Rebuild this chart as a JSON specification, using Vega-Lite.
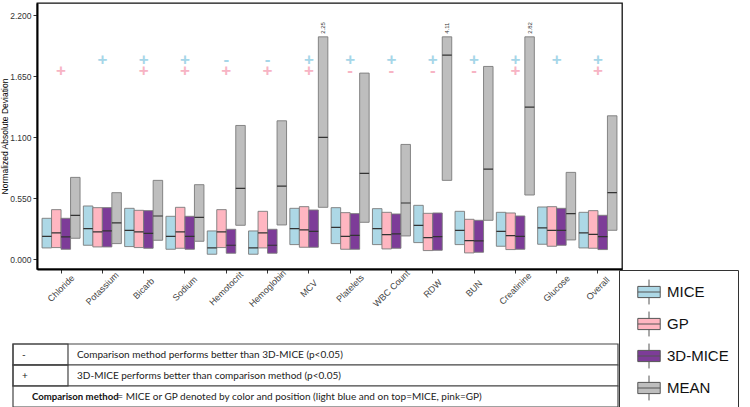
{
  "$schema": "https://vega.github.io/schema/vega-lite/v6.json",
  "background": "white",
  "padding": {"left": 0, "top": 2, "right": 0, "bottom": 0},
  "datasets": {
    "boxes": [
      {"var": "Chloride", "method": "MICE", "q1": 0.102, "med": 0.207, "q3": 0.369},
      {"var": "Chloride", "method": "GP", "q1": 0.105, "med": 0.237, "q3": 0.447},
      {"var": "Chloride", "method": "3D-MICE", "q1": 0.090, "med": 0.201, "q3": 0.369},
      {"var": "Chloride", "method": "MEAN", "q1": 0.189, "med": 0.396, "q3": 0.738},
      {"var": "Potassium", "method": "MICE", "q1": 0.126, "med": 0.276, "q3": 0.480},
      {"var": "Potassium", "method": "GP", "q1": 0.111, "med": 0.246, "q3": 0.465},
      {"var": "Potassium", "method": "3D-MICE", "q1": 0.111, "med": 0.255, "q3": 0.465},
      {"var": "Potassium", "method": "MEAN", "q1": 0.141, "med": 0.327, "q3": 0.600},
      {"var": "Bicarb", "method": "MICE", "q1": 0.114, "med": 0.261, "q3": 0.459},
      {"var": "Bicarb", "method": "GP", "q1": 0.105, "med": 0.246, "q3": 0.441},
      {"var": "Bicarb", "method": "3D-MICE", "q1": 0.099, "med": 0.234, "q3": 0.438},
      {"var": "Bicarb", "method": "MEAN", "q1": 0.171, "med": 0.390, "q3": 0.711},
      {"var": "Sodium", "method": "MICE", "q1": 0.090, "med": 0.207, "q3": 0.387},
      {"var": "Sodium", "method": "GP", "q1": 0.099, "med": 0.246, "q3": 0.468},
      {"var": "Sodium", "method": "3D-MICE", "q1": 0.090, "med": 0.207, "q3": 0.387},
      {"var": "Sodium", "method": "MEAN", "q1": 0.162, "med": 0.378, "q3": 0.672},
      {"var": "Hemotocrit", "method": "MICE", "q1": 0.045, "med": 0.102, "q3": 0.255},
      {"var": "Hemotocrit", "method": "GP", "q1": 0.105, "med": 0.246, "q3": 0.447},
      {"var": "Hemotocrit", "method": "3D-MICE", "q1": 0.054, "med": 0.126, "q3": 0.270},
      {"var": "Hemotocrit", "method": "MEAN", "q1": 0.306, "med": 0.639, "q3": 1.206},
      {"var": "Hemoglobin", "method": "MICE", "q1": 0.045, "med": 0.102, "q3": 0.255},
      {"var": "Hemoglobin", "method": "GP", "q1": 0.102, "med": 0.237, "q3": 0.432},
      {"var": "Hemoglobin", "method": "3D-MICE", "q1": 0.054, "med": 0.126, "q3": 0.270},
      {"var": "Hemoglobin", "method": "MEAN", "q1": 0.309, "med": 0.660, "q3": 1.248},
      {"var": "MCV", "method": "MICE", "q1": 0.132, "med": 0.276, "q3": 0.459},
      {"var": "MCV", "method": "GP", "q1": 0.108, "med": 0.264, "q3": 0.474},
      {"var": "MCV", "method": "3D-MICE", "q1": 0.108, "med": 0.252, "q3": 0.444},
      {"var": "MCV", "method": "MEAN", "q1": 0.468, "med": 1.098, "q3": 2.005, "label": "2.25"},
      {"var": "Platelets", "method": "MICE", "q1": 0.141, "med": 0.288, "q3": 0.465},
      {"var": "Platelets", "method": "GP", "q1": 0.090, "med": 0.207, "q3": 0.420},
      {"var": "Platelets", "method": "3D-MICE", "q1": 0.090, "med": 0.216, "q3": 0.411},
      {"var": "Platelets", "method": "MEAN", "q1": 0.333, "med": 0.774, "q3": 1.678},
      {"var": "WBC Count", "method": "MICE", "q1": 0.132, "med": 0.276, "q3": 0.456},
      {"var": "WBC Count", "method": "GP", "q1": 0.093, "med": 0.222, "q3": 0.423},
      {"var": "WBC Count", "method": "3D-MICE", "q1": 0.099, "med": 0.228, "q3": 0.408},
      {"var": "WBC Count", "method": "MEAN", "q1": 0.210, "med": 0.507, "q3": 1.035},
      {"var": "RDW", "method": "MICE", "q1": 0.150, "med": 0.306, "q3": 0.486},
      {"var": "RDW", "method": "GP", "q1": 0.078, "med": 0.195, "q3": 0.414},
      {"var": "RDW", "method": "3D-MICE", "q1": 0.081, "med": 0.204, "q3": 0.417},
      {"var": "RDW", "method": "MEAN", "q1": 0.711, "med": 1.840, "q3": 2.005, "label": "4.11"},
      {"var": "BUN", "method": "MICE", "q1": 0.132, "med": 0.261, "q3": 0.432},
      {"var": "BUN", "method": "GP", "q1": 0.057, "med": 0.168, "q3": 0.360},
      {"var": "BUN", "method": "3D-MICE", "q1": 0.063, "med": 0.165, "q3": 0.351},
      {"var": "BUN", "method": "MEAN", "q1": 0.351, "med": 0.813, "q3": 1.738},
      {"var": "Creatinine", "method": "MICE", "q1": 0.117, "med": 0.252, "q3": 0.423},
      {"var": "Creatinine", "method": "GP", "q1": 0.087, "med": 0.213, "q3": 0.417},
      {"var": "Creatinine", "method": "3D-MICE", "q1": 0.090, "med": 0.207, "q3": 0.390},
      {"var": "Creatinine", "method": "MEAN", "q1": 0.579, "med": 1.372, "q3": 2.005, "label": "2.82"},
      {"var": "Glucose", "method": "MICE", "q1": 0.135, "med": 0.282, "q3": 0.471},
      {"var": "Glucose", "method": "GP", "q1": 0.117, "med": 0.261, "q3": 0.474},
      {"var": "Glucose", "method": "3D-MICE", "q1": 0.126, "med": 0.261, "q3": 0.459},
      {"var": "Glucose", "method": "MEAN", "q1": 0.174, "med": 0.411, "q3": 0.783},
      {"var": "Overall", "method": "MICE", "q1": 0.102, "med": 0.237, "q3": 0.423},
      {"var": "Overall", "method": "GP", "q1": 0.099, "med": 0.225, "q3": 0.438},
      {"var": "Overall", "method": "3D-MICE", "q1": 0.087, "med": 0.204, "q3": 0.396},
      {"var": "Overall", "method": "MEAN", "q1": 0.261, "med": 0.600, "q3": 1.293}
    ],
    "signs": [
      {"var": "Chloride", "cmp": "GP", "sign": "+"},
      {"var": "Potassium", "cmp": "MICE", "sign": "+"},
      {"var": "Bicarb", "cmp": "MICE", "sign": "+"},
      {"var": "Bicarb", "cmp": "GP", "sign": "+"},
      {"var": "Sodium", "cmp": "MICE", "sign": "+"},
      {"var": "Sodium", "cmp": "GP", "sign": "+"},
      {"var": "Hemotocrit", "cmp": "MICE", "sign": "-"},
      {"var": "Hemotocrit", "cmp": "GP", "sign": "+"},
      {"var": "Hemoglobin", "cmp": "MICE", "sign": "-"},
      {"var": "Hemoglobin", "cmp": "GP", "sign": "+"},
      {"var": "MCV", "cmp": "MICE", "sign": "+"},
      {"var": "MCV", "cmp": "GP", "sign": "+"},
      {"var": "Platelets", "cmp": "MICE", "sign": "+"},
      {"var": "Platelets", "cmp": "GP", "sign": "-"},
      {"var": "WBC Count", "cmp": "MICE", "sign": "+"},
      {"var": "WBC Count", "cmp": "GP", "sign": "-"},
      {"var": "RDW", "cmp": "MICE", "sign": "+"},
      {"var": "RDW", "cmp": "GP", "sign": "-"},
      {"var": "BUN", "cmp": "MICE", "sign": "+"},
      {"var": "BUN", "cmp": "GP", "sign": "-"},
      {"var": "Creatinine", "cmp": "MICE", "sign": "+"},
      {"var": "Creatinine", "cmp": "GP", "sign": "+"},
      {"var": "Glucose", "cmp": "MICE", "sign": "+"},
      {"var": "Overall", "cmp": "MICE", "sign": "+"},
      {"var": "Overall", "cmp": "GP", "sign": "+"}
    ],
    "table": [
      {"row": 1, "sym": "-", "bold": "", "desc": "Comparison method performs better than 3D-MICE (p<0.05)"},
      {"row": 2, "sym": "+", "bold": "", "desc": "3D-MICE performs better than comparison method (p<0.05)"},
      {"row": 3, "sym": "", "bold": "Comparison method", "desc": "= MICE or GP denoted by color and position (light blue and on top=MICE, pink=GP)"}
    ]
  },
  "spacing": 75,
  "bounds": "flush",
  "resolve": {"legend": {"color": "independent"}},
  "vconcat": [
    {
      "width": 585,
      "height": 266,
      "data": {"name": "boxes"},
      "encoding": {
        "x": {
          "field": "var",
          "type": "nominal",
          "scale": {
            "domain": ["Chloride", "Potassium", "Bicarb", "Sodium", "Hemotocrit", "Hemoglobin", "MCV", "Platelets", "WBC Count", "RDW", "BUN", "Creatinine", "Glucose", "Overall"],
            "paddingInner": 0.08,
            "paddingOuter": 0.1225
          },
          "axis": {
            "title": null,
            "labelAngle": -45,
            "labelAlign": "center",
            "labelBaseline": "middle",
            "labelPadding": 15,
            "labelFontSize": 9,
            "labelColor": "#444",
            "tickSize": 4,
            "tickColor": "#333",
            "domainColor": "#000",
            "domainWidth": 2
          }
        }
      },
      "layer": [
        {
          "mark": {"type": "bar", "stroke": "#7a7a7a", "strokeWidth": 0.9},
          "encoding": {
            "xOffset": {"field": "method", "scale": {"domain": ["MICE", "GP", "3D-MICE", "MEAN"], "paddingInner": 0, "paddingOuter": 0}},
            "y": {
              "field": "q1",
              "type": "quantitative",
              "scale": {"domain": [-0.088, 2.31], "nice": false, "zero": false},
              "axis": {
                "title": "Normalized Absolute Deviation",
                "values": [0, 0.275, 0.55, 0.825, 1.1, 1.375, 1.65, 1.925, 2.2],
                "format": ".3f",
                "grid": false,
                "titleFontSize": 8.5,
                "titleFontWeight": "normal",
                "titleColor": "#000",
                "titlePadding": 0,
                "labelFontSize": 8.5,
                "labelColor": "#333",
                "labelPadding": 2,
                "tickSize": 4,
                "tickColor": "#333",
                "domainColor": "#000",
                "domainWidth": 2
              }
            },
            "y2": {"field": "q3"},
            "color": {
              "field": "method",
              "type": "nominal",
              "scale": {"domain": ["MICE", "GP", "3D-MICE", "MEAN"], "range": ["#add8e6", "#ffb6c1", "#7d3c98", "#bebebe"]},
              "legend": {
                "title": null,
                "orient": "none",
                "legendX": 582,
                "legendY": 267,
                "padding": 9,
                "rowPadding": 2,
                "symbolType": "M0,-1V-0.45M-0.9,-0.45H0.9V0.45H-0.9ZM-0.9,0H0.9M0,0.45V1",
                "symbolSize": 620,
                "symbolOffset": 8,
                "symbolStrokeColor": "#555",
                "symbolStrokeWidth": 1,
                "symbolOpacity": 1,
                "labelFont": "Liberation Sans",
                "labelFontSize": 15,
                "labelColor": "#111",
                "labelOffset": 5,
                "labelExpr": "datum.label + '        '",
                "strokeColor": "#333",
                "fillColor": "white"
              }
            }
          }
        },
        {
          "mark": {"type": "bar", "fill": null, "stroke": "#333", "strokeWidth": 1.2},
          "encoding": {
            "xOffset": {"field": "method", "scale": {"domain": ["MICE", "GP", "3D-MICE", "MEAN"], "paddingInner": 0, "paddingOuter": 0}},
            "y": {"field": "med", "type": "quantitative"},
            "y2": {"field": "med"}
          }
        },
        {
          "transform": [{"filter": "datum.label != null"}],
          "mark": {"type": "text", "angle": 270, "align": "left", "baseline": "middle", "dx": 3, "fontSize": 6, "color": "#333"},
          "encoding": {
            "xOffset": {"field": "method", "scale": {"domain": ["MICE", "GP", "3D-MICE", "MEAN"], "paddingInner": 0, "paddingOuter": 0}},
            "y": {"field": "q3", "type": "quantitative"},
            "text": {"field": "label"}
          }
        },
        {
          "data": {"name": "signs"},
          "transform": [{"filter": "datum.cmp == 'MICE'"}],
          "mark": {"type": "text", "fontSize": 17, "fontWeight": "bold", "baseline": "middle", "color": "#a6d6e8"},
          "encoding": {
            "y": {"datum": 1.792},
            "text": {"field": "sign"}
          }
        },
        {
          "data": {"name": "signs"},
          "transform": [{"filter": "datum.cmp == 'GP'"}],
          "mark": {"type": "text", "fontSize": 17, "fontWeight": "bold", "baseline": "middle", "color": "#f7b4c4"},
          "encoding": {
            "y": {"datum": 1.693},
            "text": {"field": "sign"}
          }
        }
      ]
    },
    {
      "width": 581,
      "height": 63,
      "data": {"name": "table"},
      "view": {"stroke": null},
      "encoding": {
        "y": {"field": "row", "type": "ordinal", "axis": null, "scale": {"paddingInner": 0, "paddingOuter": 0}}
      },
      "layer": [
        {
          "mark": {"type": "rect", "fill": "white", "stroke": "#444", "strokeWidth": 1.2},
          "encoding": {
            "x": {"datum": 0, "type": "quantitative", "scale": {"domain": [0, 1], "range": [-24, 581], "nice": false, "zero": false}, "axis": null},
            "x2": {"datum": 1}
          }
        },
        {
          "transform": [{"filter": "datum.row < 3"}],
          "mark": {"type": "rect", "filled": false, "stroke": "#444", "strokeWidth": 1.2},
          "encoding": {
            "x": {"datum": 0},
            "x2": {"datum": 0.0909}
          }
        },
        {
          "mark": {"type": "text", "align": "left", "baseline": "middle", "font": "Lato", "fontSize": 10, "color": "#222"},
          "encoding": {"x": {"datum": 0.0149}, "text": {"field": "sym"}}
        },
        {
          "transform": [{"filter": "datum.row < 3"}],
          "mark": {"type": "text", "align": "left", "baseline": "middle", "font": "Lato", "fontSize": 10, "color": "#222"},
          "encoding": {"x": {"datum": 0.1058}, "text": {"field": "desc"}}
        },
        {
          "transform": [{"filter": "datum.row == 3"}],
          "mark": {"type": "text", "align": "left", "baseline": "middle", "font": "Lato", "fontSize": 9.6, "fontWeight": "bold", "color": "#111"},
          "encoding": {"x": {"datum": 0.0314}, "text": {"field": "bold"}}
        },
        {
          "transform": [{"filter": "datum.row == 3"}],
          "mark": {"type": "text", "align": "left", "baseline": "middle", "font": "Lato", "fontSize": 10, "color": "#222"},
          "encoding": {"x": {"datum": 0.1725}, "text": {"field": "desc"}}
        }
      ]
    }
  ],
  "config": {
    "font": "Liberation Sans",
    "view": {"stroke": "#111", "strokeWidth": 1.3}
  }
}
